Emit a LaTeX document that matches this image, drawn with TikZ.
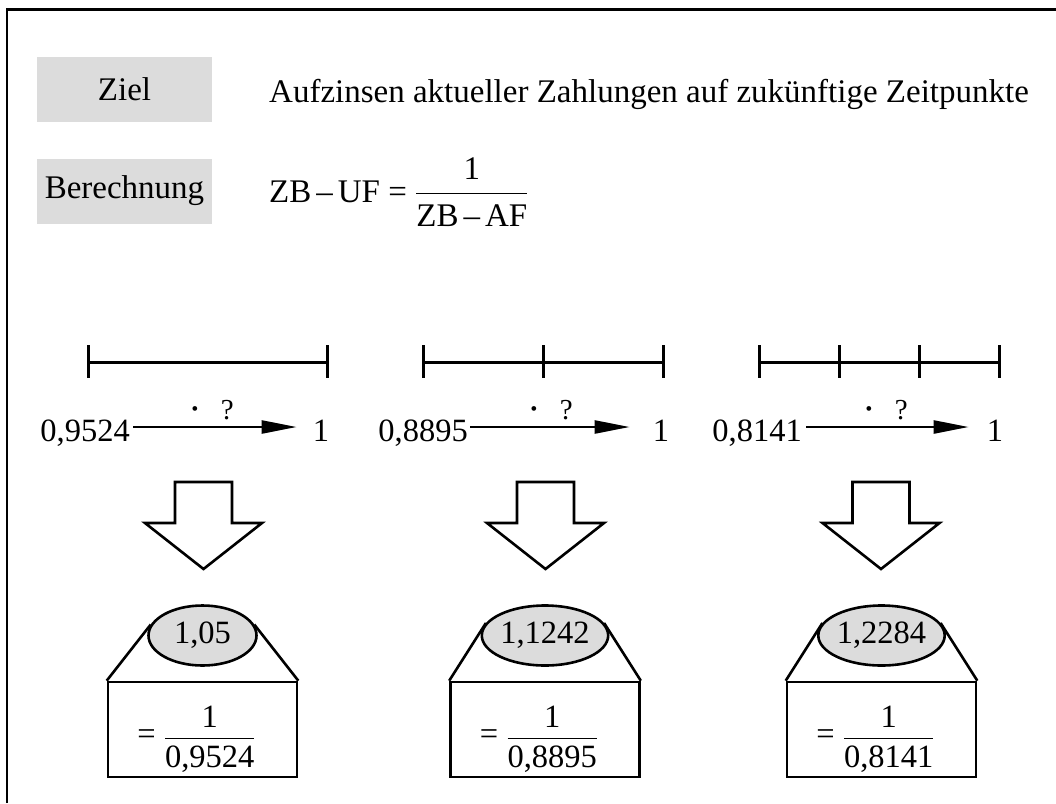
\documentclass[tikz,border=0pt]{standalone}
\usepackage{fontspec}
\setmainfont{Liberation Serif}
\usetikzlibrary{arrows.meta,shapes.geometric}
\definecolor{boxgray}{HTML}{DCDCDC}
\newcommand\bigfs{\fontsize{33}{39}\selectfont}
\newcommand\numfs{\fontsize{32.5}{38}\selectfont}
\newcommand\smallfs{\fontsize{29}{33}\selectfont}
\newcommand\resultgroup[4]{%
  \node[resbox] (b#4) at (#1,729.5) {};
  \node[resell] (r#4) at (#1,635.5) {#2};
  \draw[lw] (b#4.north west) -- (r#4.168);
  \draw[lw] (b#4.north east) -- (r#4.12);
  \node[font=\numfs, inner sep=0pt] (f#4) at ([xshift=-6pt,yshift=-10pt]b#4.center)
    {$\mbox{= }\displaystyle\frac{\mbox{1}}{\mbox{\rule{0pt}{28pt}#3}}$};
}
\begin{document}
\begin{tikzpicture}[x=1pt,y=-1pt,
  lw/.style={line width=2.6pt},
  graybox/.style={fill=boxgray, minimum width=175pt, minimum height=65pt, inner sep=0pt, font=\bigfs},
  num/.style={inner sep=0pt, text height=28pt, text depth=0pt, font=\numfs},
  flow/.style={line width=2.4pt, -{Triangle[length=35pt,width=13pt]}},
  qlabel/.style={font=\smallfs, inner sep=0pt, anchor=base},
  tickline/.style={line width=3pt},
  blockarrow/.style={line width=2.6pt, fill=white, line join=miter},
  resbox/.style={draw, line width=2.6pt, minimum width=189pt, minimum height=95pt, inner sep=0pt},
  resell/.style={ellipse, draw, line width=2.6pt, fill=boxgray, minimum width=108pt, minimum height=60pt, inner sep=0pt, font=\numfs}
]
\useasboundingbox (0,0) rectangle (1056,803);
% frame
\draw[line width=2.6pt] (7,803) -- (7,9.5) -- (1056,9.5);

% header
\node[graybox] (ziel) at (124.5,89.5) {Ziel};
\node[graybox] (ber) at (124.5,191) {Berechnung};
\node[font=\bigfs, inner sep=0pt, anchor=base west] (goal) at (269,102)
  {Aufzinsen aktueller Zahlungen auf zukünftige Zeitpunkte};
\node[font=\bigfs, inner sep=0pt, anchor=base west] (calc) at (269,202)
  {$\mbox{ZB\kern5pt–\kern5pt UF = }\raisebox{3pt}{$\displaystyle\frac{\mbox{1}\rule[-12pt]{0pt}{12pt}}{\mbox{\rule{0pt}{32pt}ZB\kern5pt–\kern5pt AF}}$}$};

% timelines
\draw[tickline] (88,362) -- (327,362);
\foreach \x in {88,327} \draw[tickline] (\x,345) -- (\x,378);
\draw[tickline] (423,362) -- (663,362);
\foreach \x in {423,543,663} \draw[tickline] (\x,345) -- (\x,378);
\draw[tickline] (759,362) -- (999,362);
\foreach \x in {759,839,919,999} \draw[tickline] (\x,345) -- (\x,378);

% arrows with values
\node[num, anchor=east] (s1) at (130,427) {0,9524};
\node[num] (e1) at (321,427) {1};
\draw[flow, shorten <=3pt, shorten >=16pt] (s1) -- (e1);
\node[qlabel] (q1) at (212,419) {\raisebox{1pt}{\textbf{·}}\hspace{21pt}?};

\node[num, anchor=east] (s2) at (468,427) {0,8895};
\node[num] (e2) at (661,427) {1};
\draw[flow, shorten <=2pt, shorten >=23pt] (s2) -- (e2);
\node[qlabel] (q2) at (551,419) {\raisebox{1pt}{\textbf{·}}\hspace{21pt}?};

\node[num, anchor=east] (s3) at (802,427) {0,8141};
\node[num] (e3) at (995,427) {1};
\draw[flow, shorten <=4pt, shorten >=18pt] (s3) -- (e3);
\node[qlabel] (q3) at (886,419) {\raisebox{1pt}{\textbf{·}}\hspace{21pt}?};

% block arrows
\foreach \c in {203.5,545.5,881} {
  \draw[blockarrow] (\c-28.5,482) -- (\c+28.5,482) -- (\c+28.5,523) -- (\c+58.5,523)
    -- (\c,569) -- (\c-58.5,523) -- (\c-28.5,523) -- cycle;
}

% result groups
\resultgroup{202.5}{1,05}{0,9524}{a}
\resultgroup{545}{1,1242}{0,8895}{b}
\resultgroup{881.5}{1,2284}{0,8141}{c}
\end{tikzpicture}
\end{document}
